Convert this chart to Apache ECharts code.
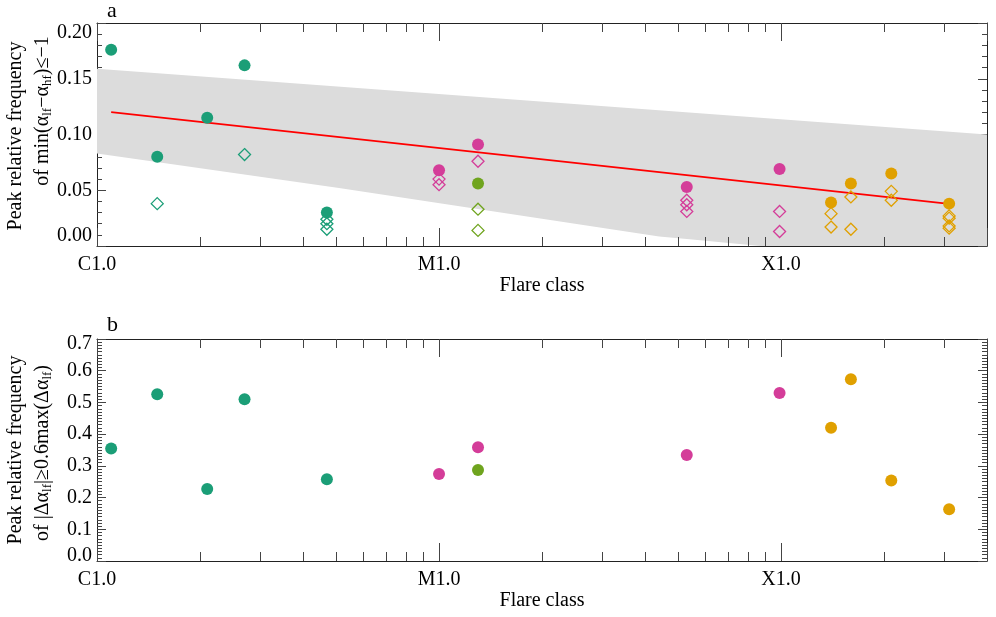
<!DOCTYPE html>
<html><head><meta charset="utf-8">
<script src="https://cdn.jsdelivr.net/npm/echarts@6/dist/echarts.min.js"></script>
<style>html,body{margin:0;padding:0;background:#fff}#c{width:996px;height:617px}</style>
</head><body><div id="c"></div><script>
// ---------------- data ----------------
// GOES peak flux (W m^-2) of each flare and peak relative frequencies
const tickFlux = [1e-6, 1e-5, 1e-4];
const tickLabels = ['C1.0', 'M1.0', 'X1.0'];
const minorTickFlux = [2e-6, 3e-6, 4e-6, 5e-6, 6e-6, 7e-6, 8e-6, 9e-6,
                       2e-5, 3e-5, 4e-5, 5e-5, 6e-5, 7e-5, 8e-5, 9e-5,
                       2e-4, 3e-4];

// C-class flares (green)
const cFlux = [1.1e-6, 1.5e-6, 2.1e-6, 2.7e-6, 4.7e-6];
const cPeakA = [0.176, 0.080, 0.115, 0.162, 0.030];
const cPeakB = [0.355, 0.526, 0.227, 0.510, 0.258];
const cOpenFlux = [1.5e-6, 2.7e-6, 4.7e-6, 4.7e-6, 4.7e-6];
const cOpenA = [0.038, 0.082, 0.024, 0.020, 0.015];

// M-class flares (magenta)
const mFlux = [1.0e-5, 1.3e-5, 5.3e-5, 9.9e-5];
const mPeakA = [0.068, 0.091, 0.053, 0.069];
const mPeakB = [0.274, 0.359, 0.334, 0.530];
const mOpenFlux = [1.0e-5, 1.0e-5, 1.3e-5, 5.3e-5, 5.3e-5, 5.3e-5, 9.9e-5, 9.9e-5];
const mOpenA = [0.060, 0.055, 0.076, 0.041, 0.037, 0.031, 0.031, 0.013];

// second M1.3 flare (olive green)
const m2Flux = [1.3e-5];
const m2PeakA = [0.056];
const m2PeakB = [0.287];
const m2OpenFlux = [1.3e-5, 1.3e-5];
const m2OpenA = [0.033, 0.014];

// X-class flares (gold)
const xFlux = [1.4e-4, 1.6e-4, 2.1e-4, 3.1e-4];
const xPeakA = [0.039, 0.056, 0.065, 0.038];
const xPeakB = [0.420, 0.573, 0.254, 0.163];
const xOpenFlux = [1.4e-4, 1.4e-4, 1.6e-4, 1.6e-4, 2.1e-4, 2.1e-4, 3.1e-4, 3.1e-4, 3.1e-4, 3.1e-4];
const xOpenA = [0.029, 0.017, 0.044, 0.015, 0.049, 0.041, 0.027, 0.025, 0.018, 0.016];

// linear fit and its confidence band (panel a)
const fitFlux = [1.1e-6, 3.1e-4];
const fitA = [0.120, 0.0377];
const bandUpperFlux = [1e-6, 4e-4];
const bandUpper = [0.159, 0.100];
const bandLowerFlux = [1e-6, 5.1e-6, 4.4e-5, 5.4e-5, 8.7e-5, 4e-4];
const bandLower = [0.083, 0.052, 0.0085, 0.006, 0.0, -0.012];

// ---------------- chart ----------------
const FONT = '"Liberation Serif", "Times New Roman", serif';
const AXC = '#222', TKC = '#444';
const COL = {c: '#1b9e77', m: '#d43d99', m2: '#6fa41e', x: '#e0a000'};

function xLabel(v) {
  const i = tickFlux.findIndex(t => Math.abs(Math.log10(v) - Math.log10(t)) < 1e-6);
  return i >= 0 ? tickLabels[i] : '';
}
function xAx(gi, pos) {
  const bottom = pos === 'bottom';
  return {
    type: 'log', logBase: 10, gridIndex: gi, position: pos, min: 1e-6, max: 4e-4,
    name: bottom ? 'Flare class' : '', nameLocation: 'middle', nameGap: 30,
    nameTextStyle: {fontFamily: FONT, fontSize: 20, color: '#000'},
    axisLine: {show: true, onZero: false, lineStyle: {color: AXC, width: 1}},
    axisTick: {show: true, inside: true, length: 18, lineStyle: {color: TKC, width: 1}},
    minorTick: {show: false},
    axisLabel: {show: bottom, interval: 0, margin: 9, formatter: xLabel,
      fontFamily: FONT, fontSize: 20, color: '#000', showMinLabel: true, showMaxLabel: true},
    splitLine: {show: false}
  };
}
function yAx(gi, pos, max, interval, dec, minorN, lh) {
  const left = pos === 'left';
  const lab = {show: left, margin: 5, formatter: v => v.toFixed(dec),
      fontFamily: FONT, fontSize: 20, color: '#000',
      verticalAlignMinLabel: 'bottom', verticalAlignMaxLabel: 'top'};
  if (lh) lab.lineHeight = lh;
  return {
    type: 'value', gridIndex: gi, position: pos, min: 0, max: max, interval: interval,
    axisLine: {show: true, onZero: false, lineStyle: {color: AXC, width: 1}},
    axisTick: {show: true, inside: true, length: 9, lineStyle: {color: TKC, width: 1}},
    minorTick: {show: true, splitNumber: minorN, length: 5, lineStyle: {color: TKC, width: 1}},
    axisLabel: lab,
    splitLine: {show: false}
  };
}
function pts(xs, ys) { return xs.map((x, i) => [x, ys[i]]); }
function filled(xs, ys, ai, color) {
  return {type: 'scatter', xAxisIndex: ai, yAxisIndex: ai, data: pts(xs, ys), symbol: 'circle',
    symbolSize: 12, itemStyle: {color: color, opacity: 1}, z: 6, silent: true};
}
function open(xs, ys, ai, color) {
  return {type: 'scatter', xAxisIndex: ai, yAxisIndex: ai, data: pts(xs, ys), symbol: 'diamond',
    symbolSize: 12, itemStyle: {color: 'rgba(0,0,0,0)', borderColor: color, borderWidth: 1.3, opacity: 1}, z: 5, silent: true};
}
function minorTicks(ai) {
  return {type: 'custom', xAxisIndex: ai, yAxisIndex: ai, z: 8, silent: true,
    data: minorTickFlux.map(x => [x, 0]),
    renderItem: (params, api) => {
      const cs = params.coordSys;
      const px = Math.round(api.coord([api.value(0), api.value(1)])[0]) + 0.5;
      const yb = cs.y + cs.height;
      return {type: 'group', children: [
        {type: 'line', shape: {x1: px, y1: yb, x2: px, y2: yb - 9}, style: {stroke: TKC, lineWidth: 1}},
        {type: 'line', shape: {x1: px, y1: cs.y, x2: px, y2: cs.y + 9}, style: {stroke: TKC, lineWidth: 1}}
      ]};
    }};
}

const mainRich = {
  m: {fontFamily: FONT, fontSize: 20, lineHeight: 22, verticalAlign: 'middle', fill: '#000', color: '#000'},
  s: {fontFamily: FONT, fontSize: 13, lineHeight: 10, verticalAlign: 'bottom', fill: '#000', color: '#000'}
};
function rotText(x, y, text) {
  return {type: 'text', x: x, y: y, rotation: Math.PI / 2, silent: true,
    style: {text: text, rich: mainRich, fontFamily: FONT, fontSize: 20, fill: '#000',
      align: 'center', verticalAlign: 'middle', textAlign: 'center', textVerticalAlign: 'middle'}};
}
function plainText(x, y, text, size) {
  return {type: 'text', x: x, y: y, silent: true,
    style: {text: text, fontFamily: FONT, fontSize: size, fill: '#000',
      align: 'left', verticalAlign: 'middle', textAlign: 'left', textVerticalAlign: 'middle'}};
}

const chart = echarts.init(document.getElementById('c'), null, {renderer: 'canvas'});
chart.setOption({
  animation: false,
  backgroundColor: '#fff',
  grid: [
    {left: 97, top: 23, width: 890, height: 223},
    {left: 97, top: 339, width: 890, height: 222}
  ],
  xAxis: [xAx(0, 'bottom'), xAx(0, 'top'), xAx(1, 'bottom'), xAx(1, 'top')],
  yAxis: [yAx(0, 'left', 0.2, 0.05, 2, 5), yAx(0, 'right', 0.2, 0.05, 2, 5),
          yAx(1, 'left', 0.7, 0.1, 1, 10, 10), yAx(1, 'right', 0.7, 0.1, 1, 10)],
  graphic: [
    plainText(107, 11, 'a', 22),
    plainText(107, 325, 'b', 22),
    rotText(16, 136, '{m|Peak relative frequency}'),
    rotText(43, 111, '{m|of min(α}{s|lf}{m|−α}{s|hf}{m|)≤−1}'),
    rotText(16, 450, '{m|Peak relative frequency}'),
    rotText(43, 453, '{m|of |Δα}{s|lf}{m||≥0.6max(Δα}{s|lf}{m|)}')
  ],
  series: [
    {type: 'custom', xAxisIndex: 0, yAxisIndex: 0, z: 1, silent: true, clip: true,
      data: [[bandUpperFlux[0], bandUpper[0]]],
      renderItem: (params, api) => {
        if (params.dataIndex !== 0) return;
        const p = [];
        bandUpperFlux.forEach((x, i) => p.push(api.coord([x, bandUpper[i]])));
        for (let i = bandLowerFlux.length - 1; i >= 0; i--) p.push(api.coord([bandLowerFlux[i], bandLower[i]]));
        const cs = params.coordSys;
        return {type: 'polygon', shape: {points: p}, style: {fill: '#dcdcdc'},
          clipPath: {type: 'rect', shape: {x: cs.x, y: cs.y, width: cs.width, height: cs.height}}};
      }},
    {type: 'line', xAxisIndex: 0, yAxisIndex: 0, data: pts(fitFlux, fitA), symbol: 'none',
      lineStyle: {color: '#ff0000', width: 1.8}, z: 3, silent: true},
    minorTicks(0), minorTicks(2),
    open(cOpenFlux, cOpenA, 0, COL.c),
    open(mOpenFlux, mOpenA, 0, COL.m),
    open(m2OpenFlux, m2OpenA, 0, COL.m2),
    open(xOpenFlux, xOpenA, 0, COL.x),
    filled(cFlux, cPeakA, 0, COL.c),
    filled(mFlux, mPeakA, 0, COL.m),
    filled(m2Flux, m2PeakA, 0, COL.m2),
    filled(xFlux, xPeakA, 0, COL.x),
    filled(cFlux, cPeakB, 2, COL.c),
    filled(mFlux, mPeakB, 2, COL.m),
    filled(m2Flux, m2PeakB, 2, COL.m2),
    filled(xFlux, xPeakB, 2, COL.x)
  ]
});
</script></body></html>
